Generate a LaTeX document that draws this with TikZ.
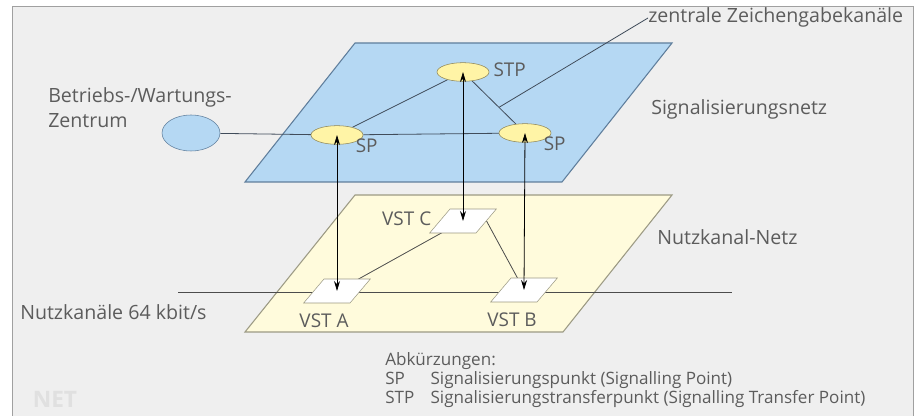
\documentclass[tikz,border=0pt]{standalone}
\usepackage{fontspec}
\setmainfont{Open Sans}
\usetikzlibrary{shapes.geometric,arrows.meta,backgrounds,calc}
\definecolor{rahmen}{HTML}{EFEFEF}
\definecolor{rahmenrand}{HTML}{A0A0A0}
\definecolor{signetz}{HTML}{B5D8F3}
\definecolor{signrand}{HTML}{5F7E9C}
\definecolor{nutznetz}{HTML}{FFFBDC}
\definecolor{nutzrand}{HTML}{9C9A84}
\definecolor{punkt}{HTML}{FFF4A6}
\definecolor{punktrand}{HTML}{8C8456}
\definecolor{schrift}{HTML}{5C5C5C}
\definecolor{linie}{HTML}{404C5A}
\tikzset{
  punktnode/.style={ellipse,draw=punktrand,fill=punkt,minimum width=39pt,minimum height=14pt,inner sep=0pt},
  vstnode/.style={trapezium,trapezium left angle=52,trapezium right angle=128,trapezium stretches,
    draw=nutzrand,fill=white,minimum width=50pt,minimum height=18pt,inner sep=1pt},
  lbl/.style={text=schrift,inner sep=0pt,text height=1.5ex,text depth=.25ex,font=\fontsize{14.7}{17}\selectfont},
  klein/.style={lbl,font=\fontsize{14.2}{16}\selectfont},
  netz/.style={line width=0.8pt},
  verb/.style={draw=linie,line width=0.6pt}
}
\begin{document}
\begin{tikzpicture}[x=0.75pt,y=-0.75pt,>={Stealth[length=7.5pt,width=4.5pt]}]
\useasboundingbox (0,0) rectangle (920,416);

\node[punktnode,label={[klein,label distance=3pt]east:STP}] (stp) at (463,72) {};
\node[punktnode,label={[klein]south east:SP}] (spl) at (337,135) {};
\node[punktnode,label={[klein]south east:SP}] (spr) at (525,133) {};
\node[ellipse,draw=signrand,fill=signetz,minimum width=43.5pt,minimum height=27pt] (bwz) at (191,133) {};

\node[vstnode] (vsta) at (337,291) {};
\node[vstnode] (vstb) at (524,290) {};
\node[vstnode,label={[klein,label distance=6pt]west:VST C}] (vstc) at (463,221) {};
\node[klein] at ($(vsta)+(-13,32)$) {VST A};
\node[klein] at ($(vstb)+(-12,32)$) {VST B};

\node[lbl,anchor=west] (zzk) at (648,18) {zentrale Zeichengabekanäle};
\node[lbl,anchor=west] at (651,110) {Signalisierungsnetz};
\node[lbl,anchor=west] at (48,98) {Betriebs-/Wartungs-};
\node[lbl,anchor=west] at (48,123) {Zentrum};
\node[lbl,anchor=west] at (657,240) {Nutzkanal-Netz};
\node[lbl,anchor=west] at (20,315) {Nutzkanäle 64 kbit/s};
\node[text=white!88!black,font=\fontsize{17}{17}\selectfont\bfseries] at (55,399) {NET};

\node[text=schrift,inner sep=0pt,anchor=north west,font=\fontsize{12.8}{14.3}\selectfont] (abk) at (385,352)
  {\begin{tabular}{@{}p{34pt}@{}l@{}}
   \multicolumn{2}{@{}l@{}}{Abkürzungen:}\\
   SP & Signalisierungspunkt (Signalling Point)\\
   STP & Signalisierungstransferpunkt (Signalling Transfer Point)
   \end{tabular}};

\coordinate (nkl) at (178,292);
\coordinate (nkr) at (732,292);
\coordinate (zzkfuss) at ($(stp)!0.58!(spr)$);

\begin{scope}[on background layer]
\fill[white] (0,0) rectangle (920,416);
\fill[rahmen] (12,6) rectangle (913,416);
\draw[rahmenrand] (12,416) -- (12,6) -- (913,6) -- (913,416);
\draw[netz,draw=signrand,fill=signetz] (355,43) -- (672,43) -- (562,182) -- (245,182) -- cycle;
\draw[netz,draw=nutzrand,fill=nutznetz] (355,195) -- (672,195) -- (563,332) -- (245,332) -- cycle;
\draw[verb] (bwz) -- (spl);
\draw[verb] (spl) -- (spr);
\draw[verb] (spl) -- (stp);
\draw[verb] (stp) -- (spr);
\draw[verb] (zzkfuss) -- (zzk.west);
\draw[verb,draw=black!70] (nkl) -- (nkr);
\draw[verb,draw=black!70] (vsta.center) -- (vstc.center);
\draw[verb,draw=black!70] (vstc.east) -- (vstb.center);
\end{scope}

\draw[<->,line width=0.6pt] (spl.center) -- (vsta.center);
\draw[<->,line width=0.6pt] (stp.center) -- (vstc.center);
\draw[<->,line width=0.6pt] (spr.center) -- (vstb.center);
\end{tikzpicture}
\end{document}
